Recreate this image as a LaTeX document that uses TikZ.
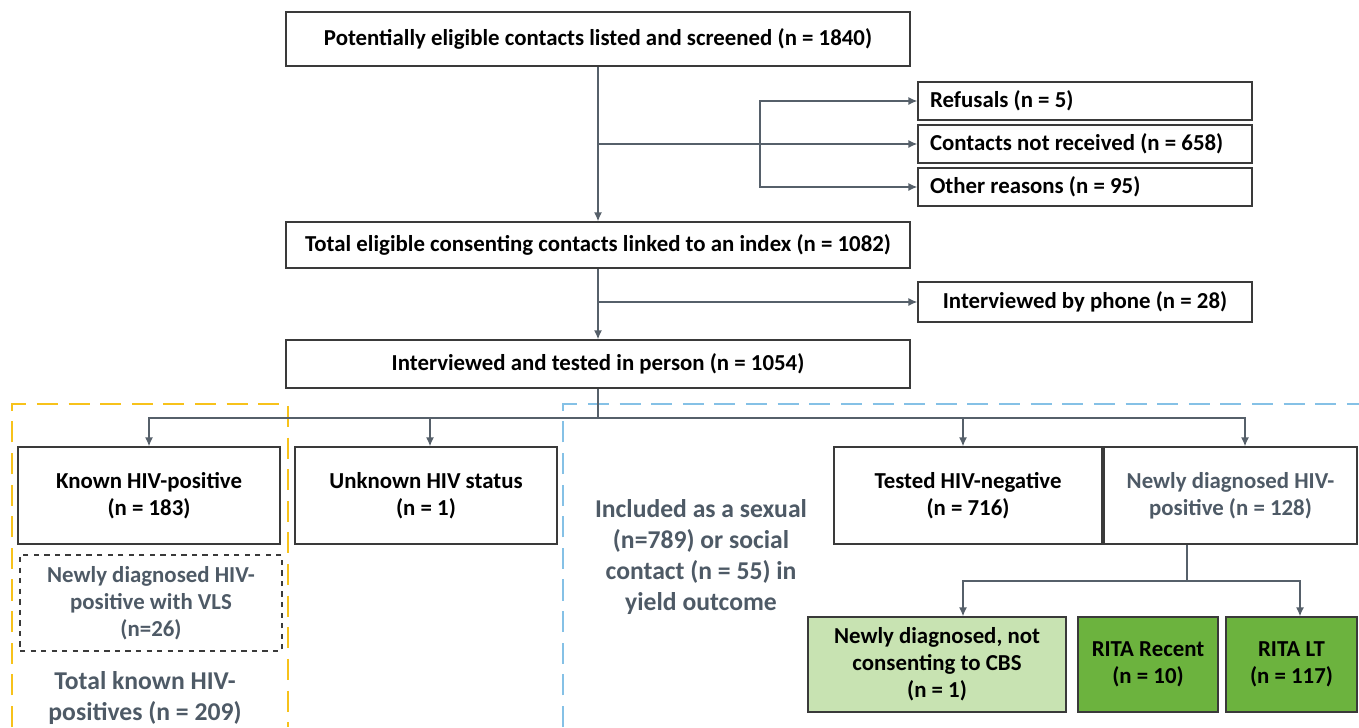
\documentclass[tikz,border=0pt]{standalone}
\usepackage{fontspec}
\setmainfont{Carlito}
\usetikzlibrary{arrows.meta}
\definecolor{boxline}{HTML}{3A3A3A}
\definecolor{arrline}{HTML}{56606A}
\definecolor{greytext}{HTML}{4E5A66}
\definecolor{yellowline}{HTML}{F7C21B}
\definecolor{blueline}{HTML}{85C1E6}
\definecolor{lightgreen}{HTML}{C8E3B2}
\definecolor{darkgreen}{HTML}{6CB33E}

\begin{document}
\begin{tikzpicture}[x=0.02cm,y=-0.02cm,
	box/.style={draw=boxline, line width=0.9pt, inner sep=0pt, align=center, font=\fontsize{13}{15.4}\selectfont\bfseries},
	sidebox/.style={box, minimum width=6.68cm, text width=6.2cm, align=flush left},
	greybox/.style={box, text=greytext},
	arr/.style={draw=arrline, line width=0.7pt, -{Latex[length=5pt,width=4.5pt]}},
	lne/.style={draw=arrline, line width=0.7pt},
	bigtext/.style={text=greytext, align=center, font=\fontsize{14.6}{17.6}\selectfont\bfseries}]
				\useasboundingbox (0,0) rectangle (1359,727);
				\draw[yellowline, line width=1.6pt, dash pattern=on 12pt off 6pt] (12,727) -- (12,404) -- (288,404) -- (288,727);
				\draw[blueline, line width=1.6pt, dash pattern=on 12pt off 6pt] (563,727) -- (563,404) -- (1359,404);
				\node[box, minimum width=12.48cm, minimum height=1.08cm] (listed) at (598,39) {Potentially eligible contacts listed and screened (n = 1840)};
				\node[sidebox, minimum height=0.76cm] (refusals) at (1085,101) {Refusals (n = 5)};
				\node[sidebox, minimum height=0.76cm] (notrecv) at (1085,144) {Contacts not received (n = 658)};
				\node[sidebox, minimum height=0.76cm] (otherrsn) at (1085,187) {Other reasons (n = 95)};
				\node[box, minimum width=12.48cm, minimum height=0.92cm] (eligible) at (598,245) {Total eligible consenting contacts linked to an index (n = 1082)};
				\node[box, minimum width=6.68cm, minimum height=0.8cm] (phone) at (1085,302) {Interviewed by phone (n = 28)};
				\node[box, minimum width=12.48cm, minimum height=0.96cm] (inperson) at (598,364) {Interviewed and tested in person (n = 1054)};
				\node[box, minimum width=5.24cm, minimum height=1.94cm] (knownpos) at (149,495.5) {Known HIV-positive\\(n = 183)};
				\node[box, minimum width=5.24cm, minimum height=1.94cm] (unknown) at (426,495.5) {Unknown HIV status\\(n = 1)};
				\node[box, minimum width=5.36cm, minimum height=1.94cm] (testneg) at (968,495.5) {Tested HIV-negative\\(n = 716)};
				\node[greybox, minimum width=5.06cm, minimum height=1.94cm] (newpos) at (1230.5,495.5) {Newly diagnosed HIV-\\positive (n = 128)};
				\node[greybox, dashed, line width=0.8pt, minimum width=5.24cm, minimum height=1.92cm] (vls) at (151,603) {Newly diagnosed HIV-\\positive with VLS\\(n=26)};
				\node[bigtext] (totalknown) at (145,698) {Total known HIV-\\positives (n = 209)};
				\node[bigtext] (included) at (701,557) {Included as a sexual\\(n=789) or social\\contact (n = 55) in\\yield outcome};
				\node[box, fill=lightgreen, minimum width=5.16cm, minimum height=1.9cm] (nocbs) at (937,664.5) {Newly diagnosed, not\\consenting to CBS\\(n = 1)};
				\node[box, fill=darkgreen, minimum width=2.8cm, minimum height=1.9cm] (recent) at (1148,664.5) {RITA Recent\\(n = 10)};
				\node[box, fill=darkgreen, minimum width=2.62cm, minimum height=1.9cm] (longterm) at (1291.5,664.5) {RITA LT\\(n = 117)};
				\coordinate (bracket) at (760,144);
				\coordinate (split) at (598,418);
				\coordinate (splitnew) at (1187,581);
				\draw[arr] (listed.south) -- (eligible.north);
				\draw[arr] (listed.south |- notrecv.west) -- (notrecv.west);
				\draw[arr] (bracket) |- (refusals.west);
				\draw[arr] (bracket) |- (otherrsn.west);
				\draw[arr] (eligible.south) -- (inperson.north);
				\draw[arr] (eligible.south |- phone.west) -- (phone.west);
				\draw[lne] (inperson.south) -- (split);
				\draw[arr] (split) -| (knownpos.north);
				\draw[arr] (split) -| ([xshift=0.08cm]unknown.north);
				\draw[arr] (split) -| ([xshift=-0.1cm]testneg.north);
				\draw[arr] (split) -| ([xshift=0.29cm]newpos.north);
				\draw[lne] (newpos.south -| splitnew) -- (splitnew);
				\draw[arr] (splitnew) -| ([xshift=0.52cm]nocbs.north);
				\draw[arr] (splitnew) -| ([xshift=0.17cm]longterm.north);
			\end{tikzpicture}
\end{document}
